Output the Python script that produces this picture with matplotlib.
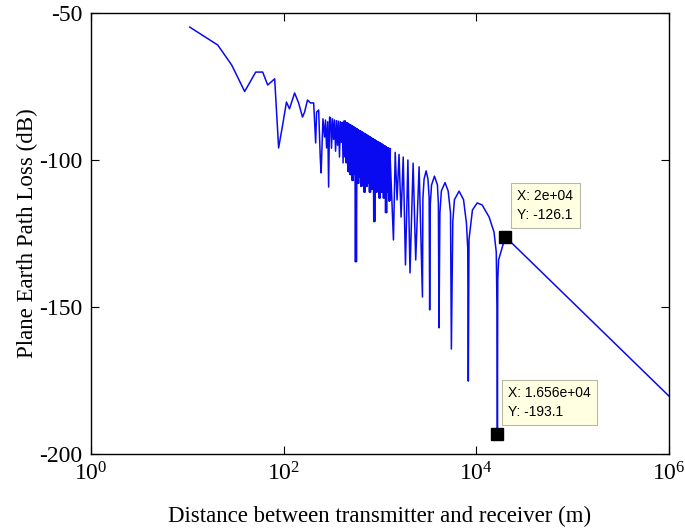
import numpy as np
import matplotlib.pyplot as plt
from matplotlib.ticker import NullLocator

plt.rcParams['font.family'] = 'Liberation Serif'
plt.rcParams['mathtext.fontset'] = 'custom'
plt.rcParams['mathtext.rm'] = 'Liberation Serif'
plt.rcParams['axes.unicode_minus'] = False

# --- values ---
# short range: coarse sampling gives irregular wiggles (d in m, loss in dB)
near_d = [10.6, 20.7, 28.9, 39.4, 51.3, 60.6, 68.3, 80.7, 84.6, 88.7,
          97.6, 107, 115, 130, 143, 157, 165, 177, 190, 205,
          215, 220, 231, 240, 245, 256, 266, 272, 279, 287,
          293, 300, 307, 314, 322, 330, 338, 346, 355, 363,
          372, 380, 389, 398, 406, 414, 422]
near_db = [-54.8, -60.9, -67.7, -76.7, -70.1, -70.1, -74.5, -72.4, -84.0, -95.9,
           -88.1, -80.3, -82.6, -77.2, -80.6, -85.4, -83.7, -79.6, -80.6, -80.6,
           -94.2, -83.7, -83.0, -99.3, -104.4, -86.0, -92.2, -86.4, -95.9, -87.0,
           -109.2, -85.4, -85.7, -96.0, -86.0, -93.0, -86.4, -97.0, -86.6, -95.0,
           -86.8, -99.0, -87.0, -94.0, -87.2, -101.0, -87.0]

# dense band (~430 m .. 1.27 km): tops and bottoms of the fast ripples
band_top_d = [430, 441, 453, 465, 477, 489, 502, 515, 528, 542,
              556, 571, 586, 601, 617, 633, 649, 666, 683, 701,
              719, 738, 757, 777, 797, 818, 839, 861, 883, 906,
              930, 954, 979, 1004, 1030, 1057, 1085, 1113, 1142, 1172,
              1203, 1234, 1266]
band_top_db = [-86.9, -87.1, -87.3, -87.5, -87.8, -88.0, -88.2, -88.4, -88.6, -88.9,
               -89.1, -89.3, -89.6, -89.8, -90.0, -90.2, -90.4, -90.7, -90.9, -91.1,
               -91.3, -91.6, -91.8, -92.0, -92.2, -92.5, -92.7, -92.9, -93.1, -93.4,
               -93.6, -93.8, -94.0, -94.2, -94.4, -94.7, -94.9, -95.1, -95.4, -95.6,
               -95.8, -96.0, -96.3]
band_low_d = [435, 447, 459, 471, 483, 495, 508, 521, 535, 549,
              563, 578, 593, 609, 625, 641, 657, 674, 692, 710,
              728, 747, 767, 787, 807, 828, 850, 872, 894, 918,
              942, 966, 991, 1017, 1043, 1071, 1099, 1127, 1157, 1187,
              1218, 1250]
band_low_db = [-99, -101, -98, -104, -101, -105, -100, -107, -103, -105,
               -134.7, -104, -108, -102, -106, -109, -104, -107, -111, -105,
               -109, -104, -108, -111, -106, -110, -105, -121, -107, -111,
               -106, -110, -113, -107, -111, -108, -113, -109, -118, -111,
               -109, -114]

# resolved nulls and lobes, then the far tail
far_d = [1380, 1440, 1505, 1577, 1656, 1743, 1840, 1949, 2050, 2208,
         2350, 2548, 2760, 2790, 2870, 3011, 3150, 3240, 3280, 3330,
         3430, 3680, 3950, 4040, 4100, 4190, 4340, 4731, 5100, 5400,
         5510, 5700, 5930, 6624, 7370, 7900, 8150, 8260, 8400, 9120,
         10220, 11500, 13580, 15270, 16110, 16400, 16560, 16700, 17030, 20000,
         1000000]
far_db = [-127.2, -97.4, -113.6, -98.1, -119.4, -99.0, -135.7, -100.0, -138.4, -101.1,
          -134.0, -102.3, -146.6, -113.0, -106.5, -103.7, -106.5, -113.0, -151.0, -115.0,
          -108.5, -105.5, -108.5, -115.0, -157.1, -118.0, -110.5, -107.7, -110.5, -118.0,
          -164.3, -121.0, -113.5, -110.6, -113.5, -121.5, -130.0, -175.2, -127.0, -117.0,
          -114.6, -115.3, -119.4, -124.5, -131.3, -150.0, -193.1, -141.0, -134.0, -126.1,
          -180.3]

# data tips
tip_x = [20000, 16560]
tip_y = [-126.1, -193.1]
tip_text = ['X: 2e+04\nY: -126.1', 'X: 1.656e+04\nY: -193.1']
tip_offset = [(12, 15), (11, 15)]

# interleave the band tops and bottoms
band_d = np.empty(len(band_top_d) + len(band_low_d))
band_db = np.empty_like(band_d)
band_d[0::2], band_d[1::2] = band_top_d, band_low_d
band_db[0::2], band_db[1::2] = band_top_db, band_low_db

dist = np.concatenate([near_d, band_d, far_d])
loss = np.concatenate([near_db, band_db, far_db])

fig = plt.figure(figsize=(6.85, 5.3), dpi=100)
ax = fig.add_axes([0.1328, 0.1434, 0.8438, 0.8321])

blue = '#0a0af0'
ax.plot(dist, loss, color=blue, lw=1.1)
# the ripples are so tight there that the trace looks solid
ax.plot(band_d, band_db, color=blue, lw=1.8, solid_joinstyle='miter')
ax.plot(tip_x, tip_y, 's', color='black', ms=8, zorder=5)

for x, y, s, off in zip(tip_x, tip_y, tip_text, tip_offset):
    ax.annotate(s, (x, y), xytext=off, textcoords='offset pixels',
                ha='left', va='bottom', fontsize=10, family='Liberation Sans',
                linespacing=1.4,
                bbox=dict(boxstyle='square,pad=0.45', fc='#ffffe1', ec='#b8b8a8', lw=0.8),
                zorder=6)

ax.set_xscale('log')
ax.set_xlim(1, 1e6)
ax.set_ylim(-200, -50)
ax.set_xticks([1, 1e2, 1e4, 1e6])
ax.xaxis.set_minor_locator(NullLocator())
ax.set_yticks([-200, -150, -100, -50])
ax.tick_params(direction='in', top=True, right=True, length=6, width=0.8,
               labelsize=17, pad=6)
for sp in ax.spines.values():
    sp.set_linewidth(1.0)

ax.set_xlabel('Distance between transmitter and receiver (m)', fontsize=16.5, labelpad=15)
ax.set_ylabel('Plane Earth Path Loss (dB)', fontsize=16.5, labelpad=1)

fig.savefig('out.png', dpi=100)
